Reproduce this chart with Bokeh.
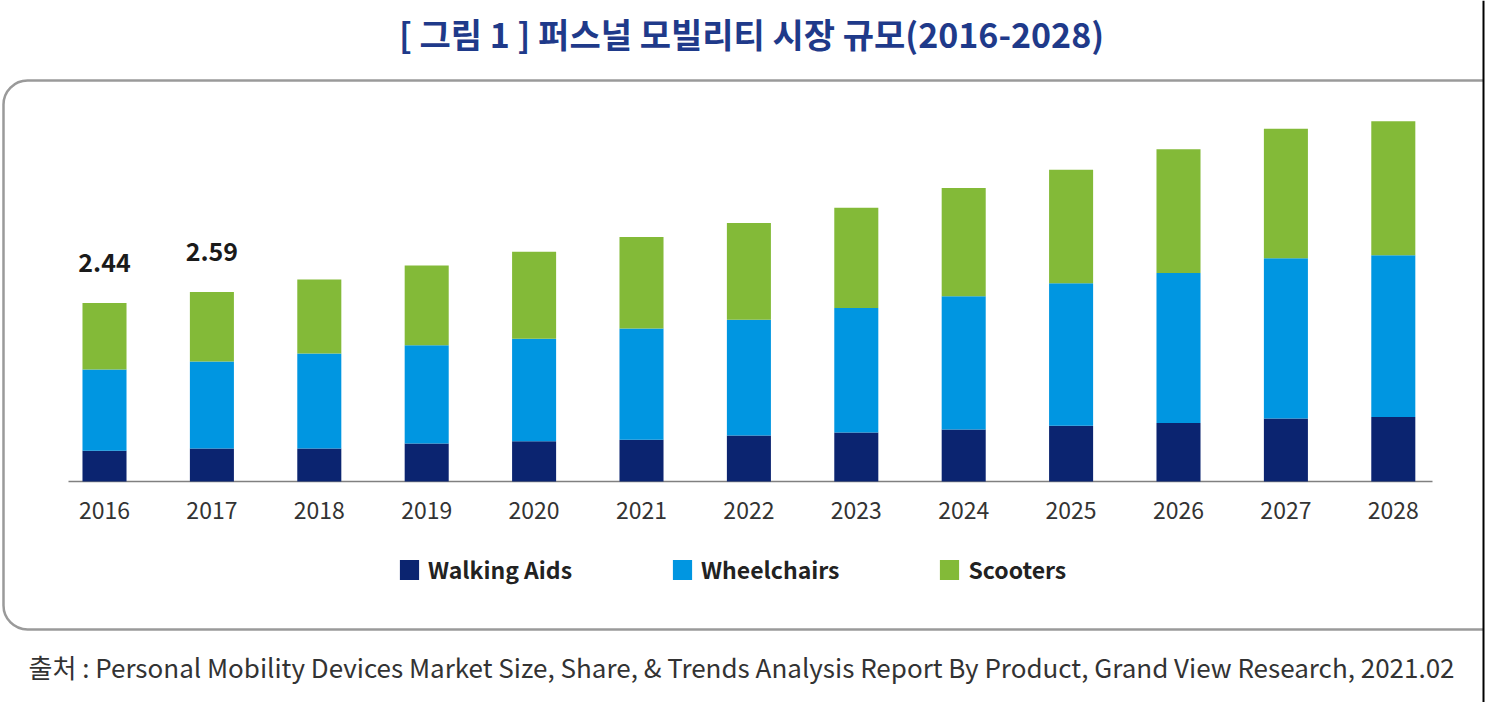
from bokeh.plotting import figure
from bokeh.models import Range1d, BoxAnnotation, Span, Legend, LegendItem, ColumnDataSource
from bokeh.core.properties import value
from bokeh.embed import file_html
from bokeh.resources import INLINE

# ---------------- data ----------------
years = [2016, 2017, 2018, 2019, 2020, 2021, 2022, 2023, 2024, 2025, 2026, 2027, 2028]
year_labels = [str(y) for y in years]
walking_aids = [0.42, 0.45, 0.45, 0.52, 0.55, 0.57, 0.63, 0.67, 0.71, 0.76, 0.80, 0.86, 0.88]
wheelchairs = [1.11, 1.19, 1.30, 1.34, 1.40, 1.52, 1.58, 1.70, 1.82, 1.95, 2.05, 2.19, 2.21]
scooters = [0.91, 0.95, 1.01, 1.09, 1.19, 1.25, 1.32, 1.37, 1.48, 1.55, 1.69, 1.77, 1.83]
series_names = ["Walking Aids", "Wheelchairs", "Scooters"]
series_colors = ["#0B2470", "#0096E1", "#83BA38"]
label_years = [2016, 2017]
label_texts = ["2.44", "2.59"]

title_text = "[ 그림 1 ] 퍼스널 모빌리티 시장 규모(2016-2028)"
source_text = ("출처 : Personal Mobility Devices Market Size, Share, & Trends Analysis Report "
               "By Product, Grand View Research, 2021.02")

# ---------------- layout helpers (canvas px -> data) ----------------
W, H = 1488, 702
X_STEP = 107.4   # px per year
X_C0 = 104.0     # px centre of first year
Y_BASE = 481.0   # px of zero line
Y_UNIT = 73.2    # px per unit value


def dx(px):
    return years[0] + (px - X_C0) / X_STEP


def dy(py):
    return (Y_BASE - py) / Y_UNIT


FONT = "Noto Sans CJK KR"

p = figure(width=W, height=H, output_backend="svg", toolbar_location=None,
           x_range=Range1d(dx(0), dx(W)), y_range=Range1d(dy(H), dy(0)),
           x_axis_location=None, y_axis_location=None, min_border=0,
           outline_line_color=None, background_fill_color="white",
           border_fill_color="white")
p.grid.visible = False

# baseline (category axis line)
p.segment(x0=[dx(68)], y0=[0], x1=[dx(1432)], y1=[0], line_color="#808080", line_width=1.6)

# stacked bars
src = ColumnDataSource(dict(years=years, **{
    "Walking Aids": walking_aids, "Wheelchairs": wheelchairs, "Scooters": scooters}))
renderers = p.vbar_stack(series_names, x="years", width=0.41, color=series_colors,
                         line_color=None, source=src)

# year tick labels
p.text(x=years, y=[0] * len(years), text=year_labels, y_offset=29,
       text_align="center", text_baseline="middle", text_font=value(FONT),
       text_font_size="23px", text_color="#333333")

# value labels on the first two bars
totals = [w + c + s for w, c, s in zip(walking_aids, wheelchairs, scooters)]
label_y = [totals[years.index(y)] for y in label_years]
p.text(x=label_years, y=label_y, text=label_texts, y_offset=-40,
       text_align="center", text_baseline="alphabetic", text_font=value(FONT),
       text_font_size="25px", text_font_style="bold", text_color="#1a1a1a")

# title
p.text(x=[dx(751)], y=[dy(33)], text=[title_text], text_align="center",
       text_baseline="middle", text_font=value(FONT), text_font_size="34px",
       text_font_style="bold", text_color="#1F3A8A")

# source
p.text(x=[dx(28)], y=[dy(666)], text=[source_text], text_align="left",
       text_baseline="middle", text_font=value(FONT), text_font_size="26px",
       text_color="#333333")

# legend
legend = Legend(items=[LegendItem(label=n, renderers=[r]) for n, r in zip(series_names, renderers)],
                orientation="horizontal", location=(397, H - 586),
                glyph_width=24, glyph_height=25, label_standoff=7, spacing=98,
                padding=0, margin=0, border_line_color=None, background_fill_alpha=0,
                label_text_font=FONT, label_text_font_size="23px",
                label_text_font_style="bold", label_text_color="#222222",
                label_height=25)
p.add_layout(legend)

# rounded frame box
p.add_layout(BoxAnnotation(left=dx(3), right=dx(1560), top=dy(80), bottom=dy(629),
                           fill_alpha=0, line_color="#9A9A9A", line_alpha=1.0,
                           line_width=2.5, border_radius=24))
# cut-off at right edge
p.add_layout(BoxAnnotation(left=dx(1483), right=dx(1600), top=dy(-10), bottom=dy(H + 10),
                           fill_color="white", fill_alpha=1, line_alpha=0))
p.add_layout(Span(location=dx(1483), dimension="height", line_color="black", line_width=2))

open("out.html", "w").write(file_html(p, INLINE))
